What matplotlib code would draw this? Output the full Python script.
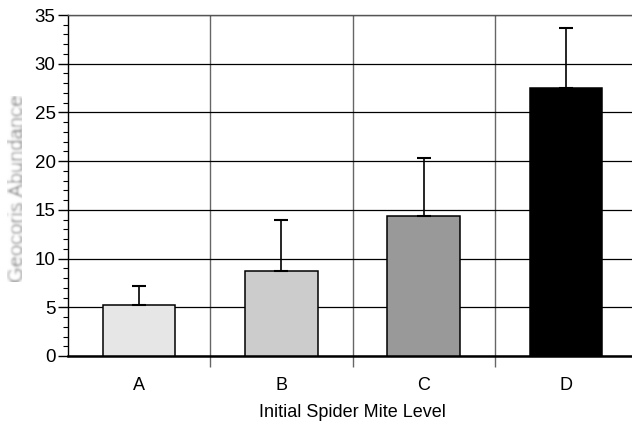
import numpy as np
import matplotlib
matplotlib.use("Agg")
import matplotlib.pyplot as plt
from matplotlib.ticker import MultipleLocator, FixedLocator

plt.rcParams['font.family'] = ['Liberation Sans', 'DejaVu Sans']

# Geocoris counts by initial spider mite level
levels = ['A', 'B', 'C', 'D']
abundance = [5.2, 8.7, 14.4, 27.5]
upper_err = [2.0, 5.3, 5.9, 6.2]
bar_colors = ['#e6e6e6', '#cccccc', '#999999', '#000000']


def blur_filter(img, dpi, sigma=1.4):
    # small gaussian blur applied to the rendered rgba buffer
    r = int(3 * sigma) + 1
    x = np.arange(-r, r + 1)
    k = np.exp(-x ** 2 / (2 * sigma ** 2))
    k /= k.sum()
    out = img.copy()
    for ax_ in (0, 1):
        out = np.apply_along_axis(lambda m: np.convolve(m, k, mode='same'), ax_, out)
    return out, 0, 0


fig = plt.figure(figsize=(6.32, 4.26), dpi=100)
ax = fig.add_axes([68 / 632, 70 / 426, 569 / 632, 341 / 426])

x = np.arange(len(levels))
ax.bar(x, abundance, width=0.51, color=bar_colors, edgecolor='black',
       linewidth=1.1, zorder=3)
ax.errorbar(x, abundance, yerr=[np.zeros(len(levels)), upper_err], fmt='none',
            ecolor='black', elinewidth=1.2, capsize=5, capthick=1.5, zorder=4)

ax.set_xlim(-0.5, 3.5)
ax.set_ylim(0, 35)
ax.yaxis.set_major_locator(MultipleLocator(5))
ax.yaxis.set_minor_locator(MultipleLocator(1))
ax.set_xticks(x)
ax.set_xticklabels(levels)
ax.xaxis.set_minor_locator(FixedLocator([0.5, 1.5, 2.5]))

ax.tick_params(axis='x', which='major', length=0, pad=15, labelsize=13)
ax.tick_params(axis='x', which='minor', length=8, width=1, color='#666666', direction='out')
ax.tick_params(axis='y', which='major', length=7, width=1, direction='out', labelsize=13.5, pad=2)
ax.tick_params(axis='y', which='minor', length=3.5, width=0.8, direction='out')

ax.grid(axis='y', which='major', color='black', linewidth=0.9, zorder=0)
ax.grid(axis='x', which='minor', color='#666666', linewidth=1, zorder=0)
ax.set_axisbelow(True)

ax.spines['right'].set_visible(False)
ax.spines['top'].set_color('#555555')
ax.spines['top'].set_linewidth(1)
ax.spines['left'].set_linewidth(1)
ax.spines['bottom'].set_linewidth(1.8)

ax.set_xlabel('Initial Spider Mite Level', fontsize=13, labelpad=7)
ylab = fig.text(0.027, 1 - 188 / 426, 'Geocoris Abundance', rotation=90,
                fontsize=14.5, color='#6e6e6e', ha='center', va='center')
ylab.set_agg_filter(blur_filter)

fig.savefig('out.png', dpi=100)
